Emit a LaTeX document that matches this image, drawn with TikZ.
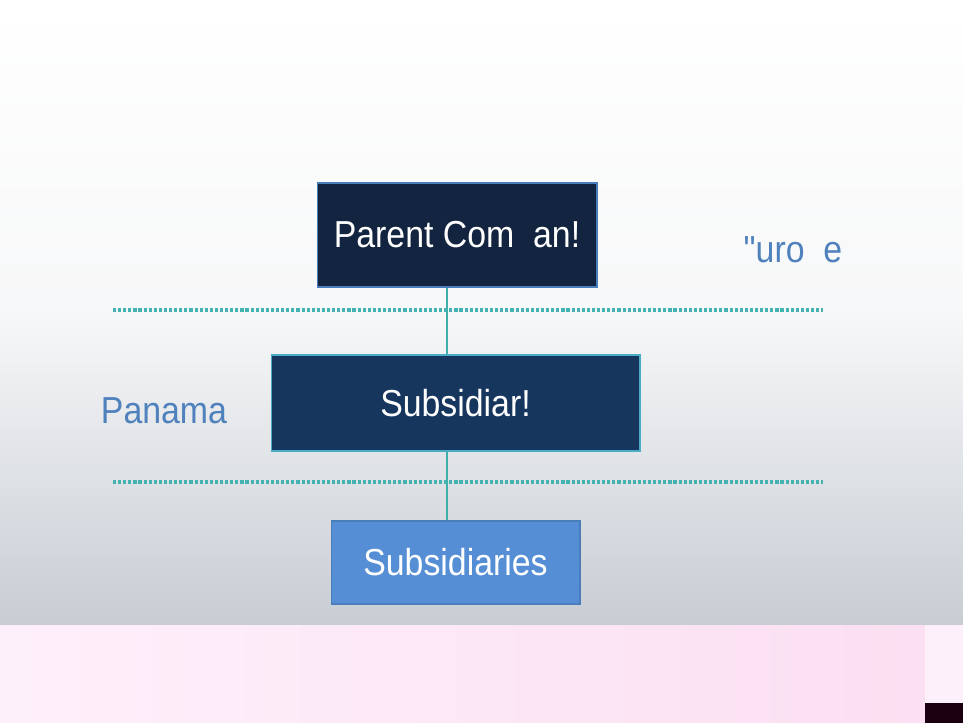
\documentclass[tikz,border=0pt]{standalone}
\usepackage{fontspec}
\newfontfamily\chartfont[FakeStretch=0.9]{Liberation Sans}
\usepackage{tikz}
\usetikzlibrary{positioning}
\usepackage{xcolor}
\definecolor{parentnavy}{HTML}{12243F}
\definecolor{subnavy}{HTML}{17365D}
\definecolor{leafblue}{HTML}{558ED5}
\definecolor{edgeblue}{HTML}{4A7EBB}
\definecolor{edgeteal}{HTML}{4BACC6}
\definecolor{linkteal}{HTML}{3FAFA8}
\definecolor{dotteal}{HTML}{45B2B2}
\definecolor{placeblue}{HTML}{4F81BD}
\definecolor{slidegray}{HTML}{C8CDD4}
\definecolor{pinkleft}{HTML}{FEF0FB}
\definecolor{pinkright}{HTML}{FBDFF2}
\definecolor{darkblock}{HTML}{1A0010}

\begin{document}
\begin{tikzpicture}[x=0.02cm,y=-0.02cm]
  \tikzset{box/.style = {shape=rectangle,draw,line width=0.6pt,inner sep=0pt,text=white,font=\chartfont\fontsize{21.4}{25}\selectfont}}
  \tikzset{parentbox/.style = {box,fill=parentnavy,draw=edgeblue,minimum width=5.6cm,minimum height=2.08cm}}
  \tikzset{subbox/.style = {box,fill=subnavy,draw=edgeteal,minimum width=7.38cm,minimum height=1.92cm}}
  \tikzset{leafbox/.style = {box,fill=leafblue,draw=edgeblue,minimum width=4.98cm,minimum height=1.66cm}}
  \tikzset{link/.style = {draw=linkteal,line width=1.6pt}}
  \tikzset{border/.style = {draw=dotteal,line width=2pt,dash pattern=on 1.8pt off 1.1pt}}
  \tikzset{place/.style = {inner sep=0pt,text=placeblue,font=\chartfont\fontsize{21.4}{25}\selectfont}}

  % slide background
  \useasboundingbox (0,0) rectangle (963,723);
  \shade[top color=white, bottom color=slidegray, middle color=white!85!slidegray] (0,0) rectangle (963,625);
  \shade[left color=pinkleft, right color=pinkright] (0,625) rectangle (925,723);
  \fill[pinkleft] (925,625) rectangle (963,703);
  \fill[darkblock] (925,703) rectangle (963,723);

  \node[parentbox] (P) at (457,235) {Parent Com\hphantom{p}an!};
  \node[subbox] (S) at (455.5,403) {Subsidiar!};
  \node[leafbox] (L) at (455.5,562.5) {Subsidiaries};

  \node[place] (EU) at (793,250) {"uro\hphantom{p}e};
  \node[place] (PA) at (164,411) {Panama};

  \coordinate (trunk) at (447,0);
  \coordinate (b1l) at (113,310);
  \coordinate (b1r) at (823,310);
  \coordinate (b2l) at (113,482);
  \coordinate (b2r) at (823,482);

  \foreach \from/\to in {P/S, S/L}
    \path[link] (\from.south -| trunk) -- (\to.north -| trunk);

  \foreach \from/\to in {b1l/b1r, b2l/b2r}
    \path[border] (\from) -- (\to);

\end{tikzpicture}
\end{document}
